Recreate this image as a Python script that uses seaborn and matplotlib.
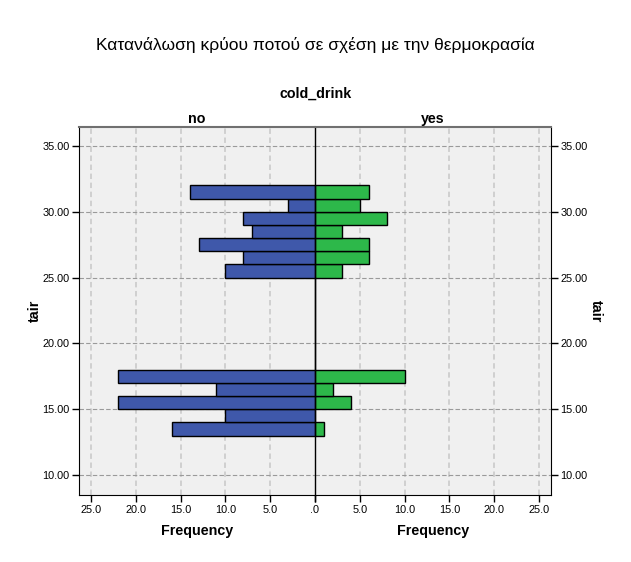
import numpy as np
import pandas as pd
import matplotlib
matplotlib.use("Agg")
import matplotlib.pyplot as plt
import seaborn as sns

# Data (bins of width 1 on tair)
bin_start = [13, 14, 15, 16, 17, 25, 26, 27, 28, 29, 30, 31]
no_counts = [16, 10, 22, 11, 22, 10, 8, 13, 7, 8, 3, 14]
yes_counts = [1, 0, 4, 2, 10, 3, 6, 6, 3, 8, 5, 6]
x_ticks = [0, 5, 10, 15, 20, 25]
y_ticks = [10, 15, 20, 25, 30, 35]

df = pd.DataFrame({
    "tair": [b + 0.5 for b in bin_start],
    "no": no_counts,
    "yes": yes_counts,
})

sns.set_theme(style="white")
plt.rcParams["font.family"] = ["Liberation Sans", "DejaVu Sans"]
plt.rcParams["text.color"] = "black"
plt.rcParams["xtick.color"] = "black"
plt.rcParams["ytick.color"] = "black"
plt.rcParams["axes.labelcolor"] = "black"

fig = plt.figure(figsize=(6.31, 5.62), dpi=100)
fig.patch.set_facecolor("white")
axL = fig.add_axes([0.1257, 0.1192, 0.3735, 0.6554])
axR = fig.add_axes([0.4992, 0.1192, 0.3735, 0.6554], sharey=axL)

blue = "#3F58AA"
green = "#2DB84A"

sns.histplot(data=df, y="tair", weights="no", binwidth=1, binrange=(13, 32), ax=axL,
             color=blue, alpha=1, edgecolor="black", linewidth=1.0)
sns.histplot(data=df, y="tair", weights="yes", binwidth=1, binrange=(13, 32), ax=axR,
             color=green, alpha=1, edgecolor="black", linewidth=1.0)

xmax = 26.3
axL.set_xlim(xmax, 0)
axR.set_xlim(0, xmax)
axL.set_ylim(8.48, 36.47)

for ax in (axL, axR):
    ax.set_facecolor("#F0F0F0")
    ax.set_axisbelow(True)
    ax.set_xticks(x_ticks)
    ax.set_yticks(y_ticks)
    for xv in x_ticks[1:]:
        ax.axvline(xv, color="#CDCDCD", linestyle=(0, (3, 2)), linewidth=1.3, zorder=0)
    for yv in y_ticks:
        ax.axhline(yv, color="#9A9A9A", linestyle=(0, (4, 2)), linewidth=0.8, zorder=0.5)
    ax.set_xlabel("")
    ax.set_ylabel("")
    ax.tick_params(axis="both", labelsize=7.8, length=5, width=1, colors="black",
                   direction="out", pad=2)
    ax.tick_params(axis="x", bottom=True, top=False)
    for s in ax.spines.values():
        s.set_color("black")
        s.set_linewidth(0.8)
    ax.spines["top"].set_color("#707070")
    ax.spines["top"].set_linewidth(1.5)

axL.set_xticklabels([".0" if v == 0 else f"{v:.1f}" for v in x_ticks])
axR.set_xticklabels([".0" if v == 0 else f"{v:.1f}" for v in x_ticks])
axR.get_xticklabels()[0].set_visible(False)
axL.set_yticklabels([f"{v:.2f}" for v in y_ticks])
axL.tick_params(axis="y", left=True, right=False, labelleft=True)
axR.tick_params(axis="y", left=False, right=True, labelleft=False, labelright=True)
axL.spines["right"].set_visible(False)
axR.spines["left"].set_color("black")
axR.spines["left"].set_linewidth(1.0)
axR.set_yticklabels([f"{v:.2f}" for v in y_ticks])
axR.yaxis.set_tick_params(labelright=True)

fig.text(0.5, 0.92, "Κατανάλωση κρύου ποτού σε σχέση με την θερμοκρασία",
         ha="center", va="center", fontsize=12.5)
fig.text(0.5, 0.833, "cold_drink", ha="center", va="center", fontsize=10.3, fontweight="bold")
fig.text(197 / 631, 1 - 119 / 562, "no", ha="center", va="center", fontsize=10.3, fontweight="bold")
fig.text(433 / 631, 1 - 119 / 562, "yes", ha="center", va="center", fontsize=10.3, fontweight="bold")
fig.text(197 / 631, 1 - 531 / 562, "Frequency", ha="center", va="center", fontsize=10.3, fontweight="bold")
fig.text(433 / 631, 1 - 531 / 562, "Frequency", ha="center", va="center", fontsize=10.3, fontweight="bold")
fig.text(35 / 631, 1 - 311 / 562, "tair", ha="center", va="center", fontsize=10.3,
         fontweight="bold", rotation=90)
fig.text(596 / 631, 1 - 311 / 562, "tair", ha="center", va="center", fontsize=10.3,
         fontweight="bold", rotation=-90)

fig.savefig("out.png", dpi=100)
